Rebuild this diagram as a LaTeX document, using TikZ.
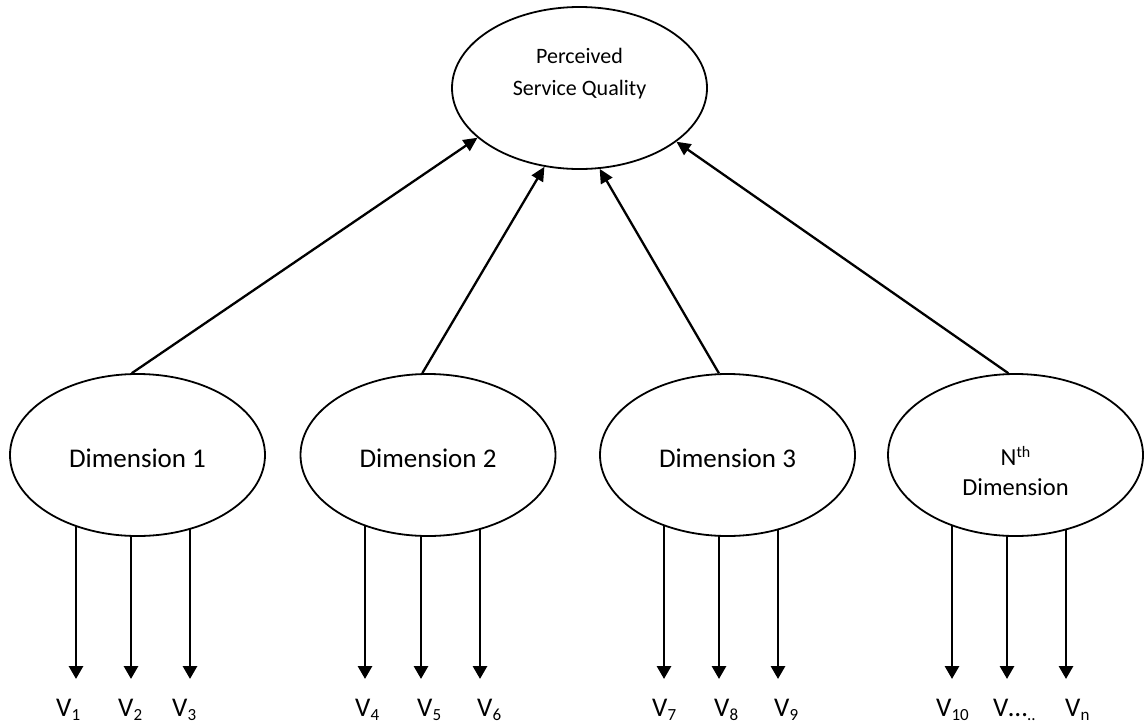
\documentclass[tikz,border=0pt]{standalone}
\usepackage{fontspec}
\setmainfont{Carlito}
\usetikzlibrary{shapes.geometric,arrows.meta,backgrounds}
\newcommand{\sbs}[1]{\raisebox{-4pt}{\fontsize{17}{17}\selectfont #1}}
\newcommand{\sps}[1]{\raisebox{8pt}{\fontsize{16}{16}\selectfont #1}}
\begin{document}
\begin{tikzpicture}[x=1pt,y=-1pt,
  oval/.style={ellipse,draw,line width=1.8pt,fill=white,minimum width=255pt,minimum height=162pt,inner sep=0pt},
  txt/.style={anchor=base,inner sep=0pt,align=center},
  uparr/.style={line width=2.3pt,-{Triangle[length=14pt,width=13pt]}},
  downarr/.style={line width=2.9pt,-{Triangle[length=13pt,width=14pt]}},
  lbl/.style={font=\fontsize{27}{27}\selectfont,anchor=base west,inner sep=0pt}]
\useasboundingbox (0,0) rectangle (1145,726);
% ellipses
\node[oval] (psq) at (579.5,88) {};
\node[oval] (d1) at (137.5,455) {};
\node[oval] (d2) at (428,455) {};
\node[oval] (d3) at (727.5,455) {};
\node[oval] (dn) at (1015.5,455) {};
% texts
\node[txt,font=\fontsize{22}{32}\selectfont] (psqt) at (579.5,95) {Perceived\\Service Quality};
\node[txt,font=\fontsize{27}{27}\selectfont] (d1t) at (137.5,467) {Dimension 1};
\node[txt,font=\fontsize{27}{27}\selectfont] (d2t) at (428,467) {Dimension 2};
\node[txt,font=\fontsize{27}{27}\selectfont] (d3t) at (727.5,467) {Dimension 3};
\node[txt,font=\fontsize{24.5}{30}\selectfont] (dnt) at (1015.5,495) {N\sps{th}\\Dimension};
% arrows to top
\draw[uparr] (d1.94) -- (psq.206.7);
\draw[uparr] (d2.94) -- (psq.246.3);
\draw[uparr] (d3.96) -- (psq.284.5);
\draw[uparr] (dn.95) -- (psq.331.7);
% tips of lower arrows
\coordinate (t1) at (76,679);
\coordinate (t2) at (131,679);
\coordinate (t3) at (190,679);
\coordinate (t4) at (365,679);
\coordinate (t5) at (421,679);
\coordinate (t6) at (480,679);
\coordinate (t7) at (664,679);
\coordinate (t8) at (719,679);
\coordinate (t9) at (778,679);
\coordinate (t10) at (952,679);
\coordinate (t11) at (1007,679);
\coordinate (t12) at (1066,679);
\begin{scope}[on background layer]
\draw[downarr] (t1 |- d1.center) -- (t1);
\draw[downarr] (t2 |- d1.center) -- (t2);
\draw[downarr] (t3 |- d1.center) -- (t3);
\draw[downarr] (t4 |- d2.center) -- (t4);
\draw[downarr] (t5 |- d2.center) -- (t5);
\draw[downarr] (t6 |- d2.center) -- (t6);
\draw[downarr] (t7 |- d3.center) -- (t7);
\draw[downarr] (t8 |- d3.center) -- (t8);
\draw[downarr] (t9 |- d3.center) -- (t9);
\draw[downarr] (t10 |- dn.center) -- (t10);
\draw[downarr] (t11 |- dn.center) -- (t11);
\draw[downarr] (t12 |- dn.center) -- (t12);
\end{scope}
% labels
\node[lbl] (v1) at (56,716) {V\sbs{1}};
\node[lbl] (v2) at (118,716) {V\sbs{2}};
\node[lbl] (v3) at (172,716) {V\sbs{3}};
\node[lbl] (v4) at (355,716) {V\sbs{4}};
\node[lbl] (v5) at (417,716) {V\sbs{5}};
\node[lbl] (v6) at (477,716) {V\sbs{6}};
\node[lbl] (v7) at (652,716) {V\sbs{7}};
\node[lbl] (v8) at (714,716) {V\sbs{8}};
\node[lbl] (v9) at (774,716) {V\sbs{9}};
\node[lbl] (v10) at (936,716) {V\sbs{10}};
\node[lbl] (v11) at (993,716) {V…\sbs{..}};
\node[lbl] (v12) at (1065,716) {V\sbs{n}};
\end{tikzpicture}
\end{document}
